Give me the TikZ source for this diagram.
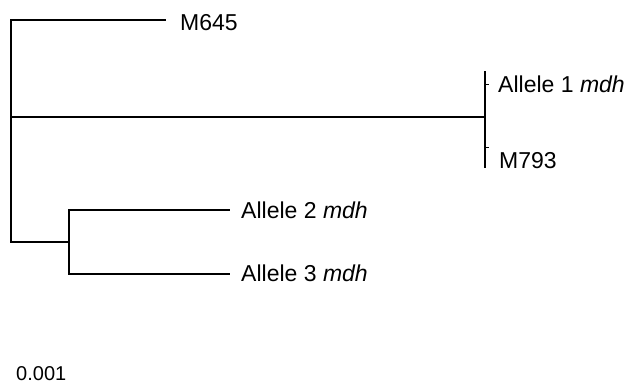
\documentclass[tikz,border=0pt]{standalone}
\usepackage{fontspec}
\setmainfont{Liberation Sans}
\begin{document}
\begin{tikzpicture}[x=1pt,y=-1pt,
  branch/.style={line width=1.7pt, line cap=rect},
  lbl/.style={font=\fontsize{23}{27}\selectfont, anchor=base west, inner sep=0pt},
  scl/.style={font=\fontsize{20}{24}\selectfont, anchor=base west, inner sep=0pt}]
\useasboundingbox (0,0) rectangle (631,383);
% internal points
\coordinate (root) at (11,117);
\coordinate (rtop) at (11,20);
\coordinate (rbot) at (11,242);
\coordinate (n1) at (485,117);
\coordinate (n1t) at (485,72);
\coordinate (n1b) at (485,167);
\coordinate (n1a) at (485,84);
\coordinate (n1c) at (485,147);
\coordinate (n1ae) at (489,84);
\coordinate (n1ce) at (489,147);
\coordinate (n2) at (69,242);
\coordinate (n2t) at (69,210);
\coordinate (n2b) at (69,274);
\coordinate (t645) at (165,20);
\coordinate (ta2) at (229,210);
\coordinate (ta3) at (229,274);
% labels
\node[lbl] (m645) at (180,30) {M645};
\node[lbl] (a1) at (498,92) {Allele 1 \textit{mdh}};
\node[lbl] (m793) at (499,168) {M793};
\node[lbl] (a2) at (241,218) {Allele 2 \textit{mdh}};
\node[lbl] (a3) at (241,281) {Allele 3 \textit{mdh}};
\node[scl] (sc) at (16,380) {0.001};
% branches
\draw[branch] (rtop) -- (rbot);
\draw[branch] (rtop) -- (t645);
\draw[branch] (root) -- (n1);
\draw[branch] (n1t) -- (n1b);
\draw[line width=1pt] (n1a) -- (n1ae);
\draw[line width=1pt] (n1c) -- (n1ce);
\draw[branch] (rbot) -- (n2);
\draw[branch] (n2t) -- (n2b);
\draw[branch] (n2t) -- (ta2);
\draw[branch] (n2b) -- (ta3);
\end{tikzpicture}
\end{document}
